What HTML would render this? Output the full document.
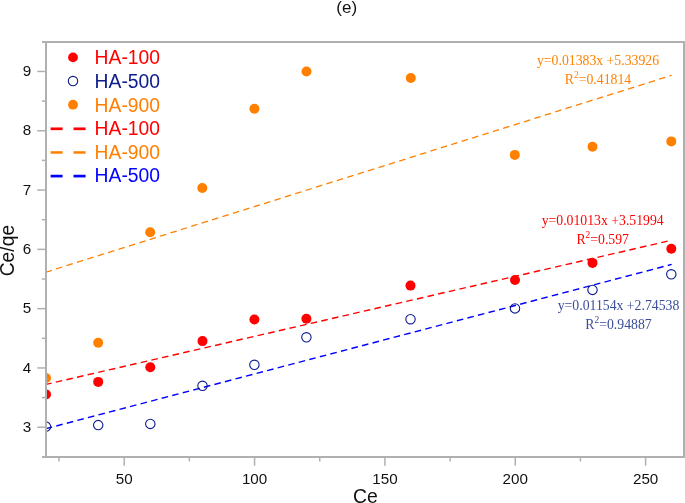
<!DOCTYPE html>
<html><head><meta charset="utf-8"><title>(e)</title>
<style>
html,body{margin:0;padding:0;background:#fff;}
body{width:685px;height:503px;overflow:hidden;font-family:"Liberation Sans",sans-serif;}
svg{display:block;will-change:transform;}
text{font-family:"Liberation Sans",sans-serif;}
.ser{font-family:"Liberation Serif",serif;}
</style></head><body>
<svg width="685" height="503" viewBox="0 0 685 503">
<rect x="0" y="0" width="685" height="503" fill="#ffffff"/>
<defs><clipPath id="pa"><rect x="46" y="42" width="638" height="415"/></clipPath></defs>
<text x="346.7" y="13.2" font-size="17" text-anchor="middle" fill="#111">(e)</text>
<g clip-path="url(#pa)" fill="none">
<line x1="46.00" y1="272.13" x2="671.68" y2="75.30" stroke="#ff8000" stroke-width="1.3" stroke-dasharray="6.5 4.4" stroke-dashoffset="0.3"/>
<line x1="46.00" y1="384.40" x2="671.68" y2="240.23" stroke="#ff0000" stroke-width="1.42" stroke-dasharray="6.6 4.3" stroke-dashoffset="0.9"/>
<line x1="46.00" y1="428.66" x2="671.68" y2="264.43" stroke="#0000ff" stroke-width="1.42" stroke-dasharray="6.6 4.3" stroke-dashoffset="0.3"/>
</g>
<g clip-path="url(#pa)">
<circle cx="46" cy="378" r="5" fill="#ff8000"/>
<circle cx="98.2" cy="342.8" r="5" fill="#ff8000"/>
<circle cx="150.2" cy="232.2" r="5" fill="#ff8000"/>
<circle cx="202.3" cy="188" r="5" fill="#ff8000"/>
<circle cx="254.4" cy="108.7" r="5" fill="#ff8000"/>
<circle cx="306.5" cy="71.5" r="5" fill="#ff8000"/>
<circle cx="410.8" cy="78" r="5" fill="#ff8000"/>
<circle cx="514.8" cy="154.9" r="5" fill="#ff8000"/>
<circle cx="592.5" cy="146.8" r="5" fill="#ff8000"/>
<circle cx="671.3" cy="141.4" r="5" fill="#ff8000"/>
<circle cx="46" cy="394.4" r="5" fill="#ff0000"/>
<circle cx="98.2" cy="381.9" r="5" fill="#ff0000"/>
<circle cx="150.3" cy="367.2" r="5" fill="#ff0000"/>
<circle cx="202.5" cy="341.1" r="5" fill="#ff0000"/>
<circle cx="254.4" cy="319.5" r="5" fill="#ff0000"/>
<circle cx="306.4" cy="318.8" r="5" fill="#ff0000"/>
<circle cx="410.5" cy="285.6" r="5" fill="#ff0000"/>
<circle cx="515" cy="280" r="5" fill="#ff0000"/>
<circle cx="592.5" cy="262.9" r="5" fill="#ff0000"/>
<circle cx="671.3" cy="248.8" r="5" fill="#ff0000"/>
<circle cx="46" cy="426.6" r="4.7" fill="#fff" fill-opacity="0" stroke="#0c1c8c" stroke-width="1.1"/>
<circle cx="98.2" cy="425.1" r="4.7" fill="#fff" fill-opacity="0" stroke="#0c1c8c" stroke-width="1.1"/>
<circle cx="150.3" cy="423.9" r="4.7" fill="#fff" fill-opacity="0" stroke="#0c1c8c" stroke-width="1.1"/>
<circle cx="202.5" cy="385.8" r="4.7" fill="#fff" fill-opacity="0" stroke="#0c1c8c" stroke-width="1.1"/>
<circle cx="254.4" cy="364.8" r="4.7" fill="#fff" fill-opacity="0" stroke="#0c1c8c" stroke-width="1.1"/>
<circle cx="306.4" cy="337.3" r="4.7" fill="#fff" fill-opacity="0" stroke="#0c1c8c" stroke-width="1.1"/>
<circle cx="410.5" cy="319.2" r="4.7" fill="#fff" fill-opacity="0" stroke="#0c1c8c" stroke-width="1.1"/>
<circle cx="515" cy="308.4" r="4.7" fill="#fff" fill-opacity="0" stroke="#0c1c8c" stroke-width="1.1"/>
<circle cx="592.5" cy="289.9" r="4.7" fill="#fff" fill-opacity="0" stroke="#0c1c8c" stroke-width="1.1"/>
<circle cx="671.3" cy="274.3" r="4.7" fill="#fff" fill-opacity="0" stroke="#0c1c8c" stroke-width="1.1"/>
</g>
<g stroke="#b0b0b0" fill="none">
<line x1="46" y1="41" x2="46" y2="458" stroke-width="2"/>
<line x1="42" y1="42" x2="685" y2="42" stroke-width="2"/>
<line x1="42" y1="457" x2="685" y2="457" stroke-width="2"/>
<line x1="684" y1="41" x2="684" y2="458" stroke-width="2"/>
<line x1="37.2" y1="427.25" x2="45" y2="427.25" stroke-width="1.5"/>
<line x1="37.2" y1="367.95" x2="45" y2="367.95" stroke-width="1.5"/>
<line x1="37.2" y1="308.65" x2="45" y2="308.65" stroke-width="1.5"/>
<line x1="37.2" y1="249.35" x2="45" y2="249.35" stroke-width="1.5"/>
<line x1="37.2" y1="190.05" x2="45" y2="190.05" stroke-width="1.5"/>
<line x1="37.2" y1="130.75" x2="45" y2="130.75" stroke-width="1.5"/>
<line x1="37.2" y1="71.45" x2="45" y2="71.45" stroke-width="1.5"/>
<line x1="41.8" y1="397.60" x2="45" y2="397.60" stroke-width="1.5"/>
<line x1="41.8" y1="338.30" x2="45" y2="338.30" stroke-width="1.5"/>
<line x1="41.8" y1="279.00" x2="45" y2="279.00" stroke-width="1.5"/>
<line x1="41.8" y1="219.70" x2="45" y2="219.70" stroke-width="1.5"/>
<line x1="41.8" y1="160.40" x2="45" y2="160.40" stroke-width="1.5"/>
<line x1="41.8" y1="101.10" x2="45" y2="101.10" stroke-width="1.5"/>
<line x1="124.21" y1="458" x2="124.21" y2="465.7" stroke-width="1.5"/>
<line x1="254.56" y1="458" x2="254.56" y2="465.7" stroke-width="1.5"/>
<line x1="384.91" y1="458" x2="384.91" y2="465.7" stroke-width="1.5"/>
<line x1="515.26" y1="458" x2="515.26" y2="465.7" stroke-width="1.5"/>
<line x1="645.61" y1="458" x2="645.61" y2="465.7" stroke-width="1.5"/>
<line x1="59.03" y1="458" x2="59.03" y2="461.5" stroke-width="1.5"/>
<line x1="189.39" y1="458" x2="189.39" y2="461.5" stroke-width="1.5"/>
<line x1="319.74" y1="458" x2="319.74" y2="461.5" stroke-width="1.5"/>
<line x1="450.09" y1="458" x2="450.09" y2="461.5" stroke-width="1.5"/>
<line x1="580.44" y1="458" x2="580.44" y2="461.5" stroke-width="1.5"/>
</g>
<g font-size="15.2" fill="#111">
<text x="31.3" y="431.95" text-anchor="end">3</text>
<text x="31.3" y="372.65" text-anchor="end">4</text>
<text x="31.3" y="313.35" text-anchor="end">5</text>
<text x="31.3" y="254.05" text-anchor="end">6</text>
<text x="31.3" y="194.75" text-anchor="end">7</text>
<text x="31.3" y="135.45" text-anchor="end">8</text>
<text x="31.3" y="76.15" text-anchor="end">9</text>
<text x="124.21" y="484" text-anchor="middle">50</text>
<text x="254.56" y="484" text-anchor="middle">100</text>
<text x="384.91" y="484" text-anchor="middle">150</text>
<text x="515.26" y="484" text-anchor="middle">200</text>
<text x="645.61" y="484" text-anchor="middle">250</text>
</g>
<text x="365.4" y="503.1" font-size="19.4" text-anchor="middle" fill="#111">Ce</text>
<text transform="translate(14.2,250.6) rotate(-90)" font-size="19.3" text-anchor="middle" fill="#111">Ce/qe</text>
<g font-size="19.3">
<circle cx="73" cy="57.40" r="4.9" fill="#ff0000"/>
<text x="94.6" y="64.20" fill="#ff0000">HA-100</text>
<circle cx="73" cy="81.05" r="4.7" fill="none" stroke="#0c1c8c" stroke-width="1.1"/>
<text x="94.6" y="87.85" fill="#0c1c8c">HA-500</text>
<circle cx="73" cy="104.70" r="4.9" fill="#ff8000"/>
<text x="94.6" y="111.50" fill="#ff8000">HA-900</text>
<line x1="50.6" y1="128.80" x2="62.6" y2="128.80" stroke="#ff0000" stroke-width="2.7" stroke-linecap="butt"/>
<line x1="73.5" y1="128.80" x2="85.6" y2="128.80" stroke="#ff0000" stroke-width="2.7" stroke-linecap="butt"/>
<text x="94.6" y="135.15" fill="#ff0000">HA-100</text>
<line x1="50.6" y1="152.45" x2="62.6" y2="152.45" stroke="#ff8000" stroke-width="2.5" stroke-linecap="butt"/>
<line x1="73.5" y1="152.45" x2="85.6" y2="152.45" stroke="#ff8000" stroke-width="2.5" stroke-linecap="butt"/>
<text x="94.6" y="158.80" fill="#ff8000">HA-900</text>
<line x1="50.6" y1="176.10" x2="62.6" y2="176.10" stroke="#0000ff" stroke-width="2.7" stroke-linecap="butt"/>
<line x1="73.5" y1="176.10" x2="85.6" y2="176.10" stroke="#0000ff" stroke-width="2.7" stroke-linecap="butt"/>
<text x="94.6" y="182.45" fill="#0000ff">HA-500</text>
</g>
<g class="ser" font-size="13.75" fill="#ff8000" text-anchor="middle">
<text class="ser" x="598" y="64.6" xml:space="preserve">y=0.01383x +5.33926</text>
<text class="ser" x="598" y="83.5">R<tspan font-size="9.4" dy="-5.6">2</tspan><tspan dy="5.6">=0.41814</tspan></text>
</g>
<g class="ser" font-size="13.75" fill="#ff0000" text-anchor="middle">
<text class="ser" x="602.7" y="225.3" xml:space="preserve">y=0.01013x +3.51994</text>
<text class="ser" x="602.7" y="243.9">R<tspan font-size="9.4" dy="-5.6">2</tspan><tspan dy="5.6">=0.597</tspan></text>
</g>
<g class="ser" font-size="13.75" fill="#3a4c9c" text-anchor="middle">
<text class="ser" x="618.5" y="309.6" xml:space="preserve">y=0.01154x +2.74538</text>
<text class="ser" x="618.5" y="328.5">R<tspan font-size="9.4" dy="-5.6">2</tspan><tspan dy="5.6">=0.94887</tspan></text>
</g>
</svg>
</body></html>
